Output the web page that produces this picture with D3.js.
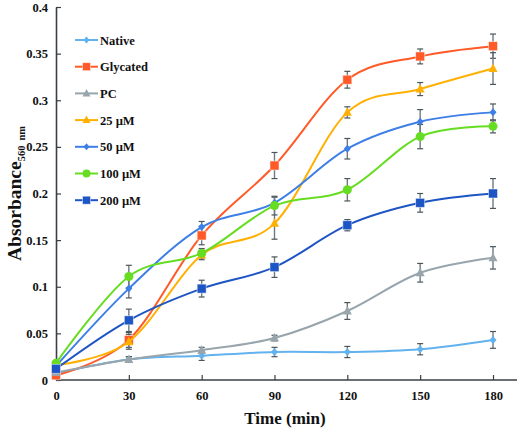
<!DOCTYPE html>
<html><head><meta charset="utf-8">
<script src="https://cdn.jsdelivr.net/npm/d3@7"></script>
<style>body{margin:0;background:#fff}svg{display:block}</style>
</head><body>
<script>
const times = [0, 30, 60, 90, 120, 150, 180];
const xTicks = [0, 30, 60, 90, 120, 150, 180];
const yTicks = [0, 0.05, 0.1, 0.15, 0.2, 0.25, 0.3, 0.35, 0.4];
const seriesNames = ["Native", "Glycated", "PC", "25 µM", "50 µM", "100 µM", "200 µM"];
const nativeVals   = [0.007, 0.022, 0.026, 0.030, 0.030, 0.033, 0.043];
const glycatedVals = [0.005, 0.043, 0.155, 0.230, 0.322, 0.347, 0.358];
const pcVals       = [0.008, 0.022, 0.032, 0.045, 0.074, 0.115, 0.131];
const c25Vals      = [0.016, 0.041, 0.134, 0.168, 0.287, 0.312, 0.334];
const c50Vals      = [0.015, 0.098, 0.164, 0.190, 0.248, 0.277, 0.287];
const c100Vals     = [0.018, 0.111, 0.136, 0.187, 0.204, 0.261, 0.272];
const c200Vals     = [0.012, 0.064, 0.098, 0.121, 0.166, 0.190, 0.200];
const nativeErr   = [0.002, 0.003, 0.005, 0.005, 0.006, 0.006, 0.009];
const glycatedErr = [0.002, 0.008, 0.010, 0.014, 0.009, 0.008, 0.013];
const pcErr       = [0.002, 0.003, 0.003, 0.003, 0.009, 0.010, 0.012];
const c25Err      = [0.002, 0.008, 0.005, 0.017, 0.006, 0.007, 0.017];
const c50Err      = [0.002, 0.010, 0.006, 0.006, 0.011, 0.013, 0.009];
const c100Err     = [0.002, 0.012, 0.005, 0.010, 0.012, 0.013, 0.007];
const c200Err     = [0.002, 0.012, 0.009, 0.011, 0.006, 0.010, 0.016];
const colors  = ["#62B2EE", "#FF5A28", "#98A5AC", "#FFB000", "#3E7FE6", "#66DD22", "#1E55C4"];
const markers = ["diamond", "square", "triangle", "triangle", "diamond", "circle", "square"];

const series = seriesNames.map((name, i) => ({
  name,
  values: [nativeVals, glycatedVals, pcVals, c25Vals, c50Vals, c100Vals, c200Vals][i],
  errs: [nativeErr, glycatedErr, pcErr, c25Err, c50Err, c100Err, c200Err][i],
  color: colors[i], marker: markers[i]
}));

const W = 520, H = 430;
const svg = d3.select("body").append("svg").attr("width", W).attr("height", H);
const x = d3.scaleLinear().domain([0, 180]).range([56, 493]);
const y = d3.scaleLinear().domain([0, 0.4]).range([380, 7]);
const font = "'Liberation Serif', 'Times New Roman', serif";

// axes
const xAxis = svg.append("g").attr("transform", "translate(0,380)")
  .call(d3.axisBottom(x).tickValues(xTicks).tickSizeInner(-5).tickSizeOuter(0).tickPadding(11));
xAxis.select(".domain").attr("d", "M56,0H517");
const yAxis = svg.append("g").attr("transform", "translate(56,0)")
  .call(d3.axisLeft(y).tickValues(yTicks).tickSizeInner(-5).tickSizeOuter(0).tickPadding(8)
    .tickFormat(d => d === 0 ? "0" : String(+d.toFixed(2))));
[xAxis, yAxis].forEach(g => {
  g.select(".domain").attr("stroke", "#3a3f44").attr("stroke-width", 1.6);
  g.selectAll(".tick line").attr("stroke", "#3a3f44").attr("stroke-width", 1.2);
  g.selectAll(".tick text").attr("font-family", font).attr("font-weight", "bold")
    .attr("font-size", 12.5).attr("fill", "#111");
});

// axis titles
svg.append("text").attr("x", 285).attr("y", 424).attr("text-anchor", "middle")
  .attr("font-family", font).attr("font-weight", "bold").attr("font-size", 17).attr("fill", "#111")
  .text("Time (min)");
const yl = svg.append("text").attr("transform", "translate(21,261) rotate(-90)")
  .attr("text-anchor", "start").attr("font-family", font).attr("font-weight", "bold")
  .attr("font-size", 19.5).attr("fill", "#111");
yl.append("tspan").text("Absorbance");
yl.append("tspan").attr("font-size", 10.5).attr("dy", 4).text("560");
yl.append("tspan").attr("font-size", 10.5).attr("dx", 5).text("nm");

const line = d3.line().x((d, i) => x(times[i])).y(d => y(d)).curve(d3.curveCardinal.tension(0));

function drawMarker(g, type, cx, cy, color, s) {
  if (type === "square") {
    g.append("rect").attr("x", cx - s).attr("y", cy - s).attr("width", 2 * s).attr("height", 2 * s)
      .attr("fill", color).attr("stroke", "#fff").attr("stroke-opacity", 0.6).attr("stroke-width", 0.8);
  } else if (type === "circle") {
    g.append("circle").attr("cx", cx).attr("cy", cy).attr("r", s + 0.5).attr("fill", color);
  } else if (type === "triangle") {
    g.append("path").attr("d", `M${cx},${cy - s - 1}L${cx + s + 0.5},${cy + s - 0.5}L${cx - s - 0.5},${cy + s - 0.5}Z`).attr("fill", color);
  } else {
    g.append("path").attr("d", `M${cx},${cy - s}L${cx + s - 0.5},${cy}L${cx},${cy + s}L${cx - s + 0.5},${cy}Z`).attr("fill", color);
  }
}

const plot = svg.append("g");
// error bars
series.forEach(s => {
  const g = plot.append("g");
  s.values.forEach((v, i) => {
    const e = s.errs[i]; const cx = x(times[i]);
    g.append("line").attr("x1", cx).attr("x2", cx).attr("y1", y(v - e)).attr("y2", y(v + e))
      .attr("stroke", "#6d7a82").attr("stroke-width", 1.4);
    [v - e, v + e].forEach(t => g.append("line").attr("x1", cx - 3).attr("x2", cx + 3)
      .attr("y1", y(t)).attr("y2", y(t)).attr("stroke", "#4a555c").attr("stroke-width", 1.2));
  });
});
// lines and markers
series.forEach(s => {
  plot.append("path").datum(s.values).attr("d", line).attr("fill", "none")
    .attr("stroke", s.color).attr("stroke-width", 2);
  const g = plot.append("g");
  s.values.forEach((v, i) => drawMarker(g, s.marker, x(times[i]), y(v), s.color,
    s.marker === "square" ? 4.5 : 4));
});

// legend
const leg = svg.append("g");
series.forEach((s, i) => {
  const ly = 40 + i * 26.7;
  leg.append("line").attr("x1", 75).attr("x2", 98).attr("y1", ly).attr("y2", ly)
    .attr("stroke", s.color).attr("stroke-width", 2);
  drawMarker(leg, s.marker, 86.5, ly, s.color, s.marker === "square" ? 4 : 3.5);
  leg.append("text").attr("x", 100).attr("y", ly + 4.5).attr("font-family", font)
    .attr("font-weight", "bold").attr("font-size", 12.5).attr("fill", "#111").text(s.name);
});
</script>
</body></html>
